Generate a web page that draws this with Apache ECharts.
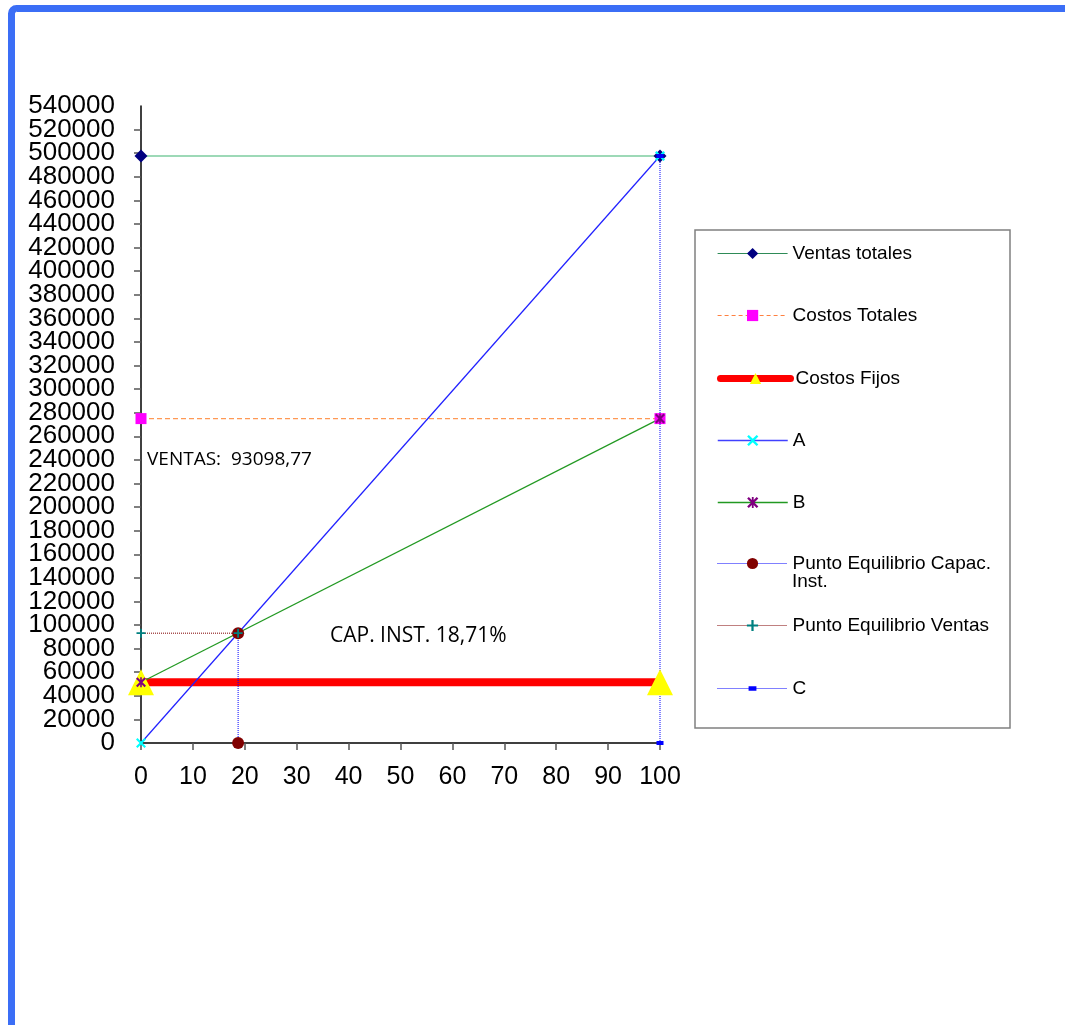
<!DOCTYPE html>
<html><head><meta charset="utf-8">
<script src="https://cdn.jsdelivr.net/npm/echarts@6/dist/echarts.min.js"></script>
<style>html,body{margin:0;padding:0;background:#fff;}#c{width:1065px;height:1025px;}</style>
</head><body><div id="c"></div>
<script>
// ---- data ----
const seriesNames = ['Ventas totales','Costos Totales','Costos Fijos','A','B','Punto Equilibrio Capac. Inst.','Punto Equilibrio Ventas','C'];
const legendLabels = ['Ventas totales','Costos Totales','Costos Fijos','A','B','Punto Equilibrio Capac.','Punto Equilibrio Ventas','C'];
const legendLabelExtra = 'Inst.';
const ventasTotales = [[0, 497600],[100, 497600]];
const costosTotales = [[0, 275000],[100, 275000]];
const costosFijos   = [[0, 51500],[100, 51500]];
const lineaA        = [[0, 0],[100, 497600]];
const lineaB        = [[0, 51500],[100, 275000]];
const peCapacInst   = [[18.71, 0],[18.71, 93098.77]];
const peVentas      = [[0, 93098.77],[18.71, 93098.77]];
const lineaC        = [[100, 0],[100, 497600]];
const yMin = 0, yMax = 540000, yStep = 20000;
const xMin = 0, xMax = 100, xStep = 10;
const annotVentas = 'VENTAS:  93098,77';
const annotCap = 'CAP. INST. 18,71%';

const X_PATH = 'path://M0,1.5L1.5,0L5,3.5L8.5,0L10,1.5L6.5,5L10,8.5L8.5,10L5,6.5L1.5,10L0,8.5L3.5,5Z';
const STAR_PATH = 'path://M0,1.5L1.5,0L4.2,2.7L4.2,0L5.8,0L5.8,2.7L8.5,0L10,1.5L6.5,5L10,8.5L8.5,10L5.8,7.3L5.8,10L4.2,10L4.2,7.3L1.5,10L0,8.5L3.5,5Z';
const PLUS_PATH = 'path://M4,0H6V4H10V6H6V10H4V6H0V4H4Z';
const SMALLRECT_PATH = 'path://M0,0L0.01,0L0,0.01Z M10,10L9.99,10L10,9.99Z M1.5,3H8.5V7H1.5Z';

const chart = echarts.init(document.getElementById('c'));
const font = 'Liberation Sans, Arial, sans-serif';

function mk(name, data, lineStyle, symbol, symbolSize, color) {
  return {
    name, type: 'line', data, clip: false, animation: false,
    symbol, symbolSize, showSymbol: true,
    lineStyle, itemStyle: { color: color, opacity: 1 },
    emphasis: { disabled: true }
  };
}

const lineStyles = [
  { color: '#3cb371', width: 1.2 },
  { color: '#ff9955', width: 1.2, type: [5, 3] },
  { color: '#ff0000', width: 8, cap: 'round' },
  { color: '#2020ff', width: 1.2 },
  { color: '#229922', width: 1.2 },
  { color: '#0000ff', width: 1, type: 'dotted' },
  { color: '#800000', width: 1, type: 'dotted' },
  { color: '#0000ff', width: 1, type: 'dotted' }
];
const legendLineStyles = [
  { color: '#2e8b57', width: 1.2, type: 'solid', cap: 'butt' },
  { color: '#ff8040', width: 1.2, type: [4, 3], cap: 'butt' },
  { color: '#ff0000', width: 7, type: 'solid', cap: 'round' },
  { color: '#4040ff', width: 1.5, type: 'solid', cap: 'butt' },
  { color: '#229922', width: 1.5, type: 'solid', cap: 'butt' },
  { color: '#0000ff', width: 1, type: 'dotted', cap: 'butt' },
  { color: '#800000', width: 1, type: 'dotted', cap: 'butt' },
  { color: '#0000ff', width: 1, type: 'dotted', cap: 'butt' }
];
const symbols = ['diamond', 'rect', 'triangle', X_PATH, STAR_PATH, 'circle', PLUS_PATH, SMALLRECT_PATH];
const symbolSizes = [13, 11, 26, 10, 10, 12, 9, 10];
const symbolColors = ['#000080', '#ff00ff', '#ffff00', '#00ffff', '#800080', '#800000', '#008080', '#0000ff'];
const dataSets = [ventasTotales, costosTotales, costosFijos, lineaA, lineaB, peCapacInst, peVentas, lineaC];

const series = seriesNames.map((n, i) => mk(n, dataSets[i], lineStyles[i], symbols[i], symbolSizes[i], symbolColors[i]));

const legendTops = [251, 313, 376, 438, 500, 561, 623, 686];
const legends = seriesNames.map((n, i) => ({
  data: [n], left: 717, top: legendTops[i] - 7, orient: 'vertical',
  itemWidth: 70, itemHeight: 14, padding: 0, selectedMode: false,
  formatter: () => legendLabels[i],
  lineStyle: legendLineStyles[i],
  textStyle: { fontFamily: font, fontSize: 19, color: '#000' }
}));

const yLabelBase = { color: '#000', fontSize: 26, fontFamily: font, margin: 26 };

chart.setOption({
  animation: false,
  backgroundColor: '#fff',
  grid: { left: 141, right: 405, top: 106, bottom: 282, containLabel: false },
  xAxis: {
    type: 'value', min: xMin, max: xMax, interval: xStep,
    axisLine: { show: true, onZero: false, lineStyle: { color: '#000', width: 1.5 } },
    axisTick: { show: true, length: 7, lineStyle: { color: '#555', width: 1.5 } },
    axisLabel: { color: '#000', fontSize: 25, fontFamily: font, margin: 22, showMinLabel: true, showMaxLabel: true, formatter: v => String(v) },
    splitLine: { show: false }
  },
  yAxis: [{
    type: 'value', min: yMin, max: yMax, interval: yStep, position: 'left',
    axisLine: { show: true, lineStyle: { color: '#000', width: 1.5 } },
    axisTick: { show: true, length: 7, lineStyle: { color: '#555', width: 1.5 } },
    axisLabel: Object.assign({ showMinLabel: false, showMaxLabel: false, formatter: v => String(v) }, yLabelBase),
    splitLine: { show: false }
  }, {
    type: 'value', min: yMin, max: yMax, interval: yStep, position: 'left', offset: 0,
    axisLine: { show: false }, axisTick: { show: false }, splitLine: { show: false },
    axisLabel: Object.assign({ showMinLabel: true, showMaxLabel: true,
      formatter: v => (v === yMin || v === yMax) ? String(v) : '' }, yLabelBase)
  }],
  legend: legends,
  series: series,
  graphic: [
    { type: 'rect', silent: true, z: 100, shape: { x: 11.5, y: 8.5, width: 1200, height: 1200, r: 5 },
      style: { fill: 'none', stroke: '#3b6ef6', lineWidth: 7 } },
    { type: 'rect', silent: true, z: -1, shape: { x: 695, y: 230, width: 315, height: 498 },
      style: { fill: '#fff', stroke: '#808080', lineWidth: 1.5 } },
    { type: 'text', silent: true, left: 792, top: 572,
      style: { text: legendLabelExtra, fontFamily: font, fontSize: 19, fill: '#000' } },
    { type: 'text', silent: true, left: 147, top: 450,
      style: { text: annotVentas, fontFamily: 'Open Sans, sans-serif', fontSize: 19, fill: '#000' } },
    { type: 'text', silent: true, left: 330, top: 626,
      style: { text: annotCap, fontFamily: 'Open Sans, sans-serif', fontSize: 21, fill: '#000' } }
  ]
});
</script></body></html>
